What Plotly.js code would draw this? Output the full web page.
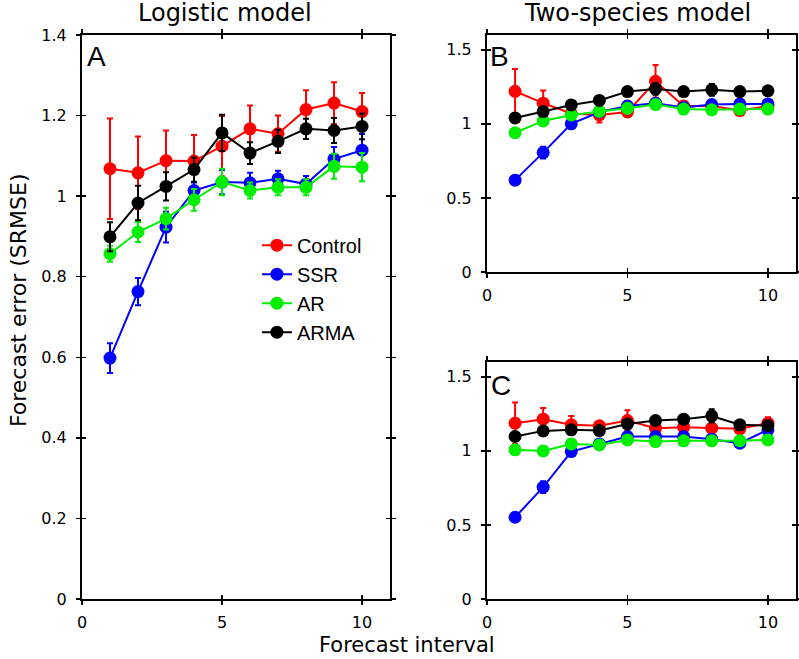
<!DOCTYPE html>
<html>
<head>
<meta charset="utf-8">
<script src="https://cdn.plot.ly/plotly-3.0.1.min.js"></script>
<style>html,body{margin:0;padding:0;background:#fff;}#chart{width:799px;height:659px;}</style>
</head>
<body>
<div id="chart"></div>
<script>
// Forecast intervals
var intervals = [1, 2, 3, 4, 5, 6, 7, 8, 9, 10];
var seriesNames = ["Control", "SSR", "AR", "ARMA"];
var seriesColors = ["#ff0000", "#0000ff", "#00ee00", "#000000"];

// Panel A: Logistic model
var ctrlA    = [1.068, 1.058, 1.088, 1.087, 1.124, 1.167, 1.155, 1.215, 1.231, 1.210];
var ctrlAerr = [0.125, 0.090, 0.075, 0.065, 0.075, 0.058, 0.045, 0.048, 0.052, 0.046];
var ssrA     = [0.598, 0.763, 0.923, 1.014, 1.035, 1.033, 1.043, 1.030, 1.092, 1.114];
var ssrAerr  = [0.037, 0.034, 0.038, 0.020, 0.030, 0.025, 0.020, 0.020, 0.030, 0.040];
var arA      = [0.857, 0.911, 0.944, 0.991, 1.035, 1.014, 1.022, 1.022, 1.074, 1.072];
var arAerr   = [0.020, 0.025, 0.027, 0.027, 0.033, 0.020, 0.020, 0.020, 0.031, 0.035];
var armaA    = [0.899, 0.983, 1.024, 1.066, 1.157, 1.107, 1.136, 1.167, 1.163, 1.173];
var armaAerr = [0.036, 0.043, 0.035, 0.030, 0.045, 0.027, 0.029, 0.025, 0.031, 0.032];

// Panel B: Two-species model (upper)
var ctrlB    = [1.220, 1.140, 1.070, 1.060, 1.080, 1.287, 1.120, 1.120, 1.090, 1.120];
var ctrlBerr = [0.150, 0.085, 0.040, 0.050, 0.030, 0.110, 0.030, 0.030, 0.030, 0.030];
var ssrB     = [0.620, 0.806, 1.000, 1.080, 1.120, 1.140, 1.110, 1.130, 1.135, 1.135];
var ssrBerr  = [0.030, 0.040, 0.030, 0.020, 0.020, 0.020, 0.020, 0.020, 0.020, 0.020];
var arB      = [0.940, 1.020, 1.060, 1.085, 1.105, 1.130, 1.100, 1.095, 1.100, 1.100];
var arBerr   = [0.020, 0.020, 0.020, 0.020, 0.020, 0.020, 0.020, 0.020, 0.020, 0.020];
var armaB    = [1.040, 1.083, 1.128, 1.158, 1.218, 1.236, 1.218, 1.230, 1.218, 1.223];
var armaBerr = [0.020, 0.020, 0.020, 0.020, 0.020, 0.040, 0.030, 0.040, 0.030, 0.020];

// Panel C: Two-species model (lower)
var ctrlC    = [1.187, 1.214, 1.176, 1.169, 1.205, 1.153, 1.160, 1.153, 1.149, 1.187];
var ctrlCerr = [0.140, 0.075, 0.060, 0.030, 0.070, 0.030, 0.030, 0.030, 0.030, 0.040];
var ssrC     = [0.552, 0.755, 0.995, 1.047, 1.097, 1.097, 1.097, 1.079, 1.052, 1.142];
var ssrCerr  = [0.020, 0.040, 0.020, 0.020, 0.020, 0.020, 0.020, 0.020, 0.020, 0.020];
var arC      = [1.007, 1.000, 1.047, 1.040, 1.074, 1.063, 1.068, 1.068, 1.068, 1.074];
var arCerr   = [0.020, 0.020, 0.020, 0.020, 0.020, 0.020, 0.020, 0.020, 0.020, 0.020];
var armaC    = [1.097, 1.135, 1.142, 1.137, 1.182, 1.205, 1.214, 1.236, 1.176, 1.171];
var armaCerr = [0.020, 0.020, 0.020, 0.020, 0.020, 0.020, 0.030, 0.045, 0.020, 0.020];

var panels = [
  {xa: "x",  ya: "y",  vals: [ctrlA, ssrA, arA, armaA], errs: [ctrlAerr, ssrAerr, arAerr, armaAerr], legend: true},
  {xa: "x2", ya: "y2", vals: [ctrlB, ssrB, arB, armaB], errs: [ctrlBerr, ssrBerr, arBerr, armaBerr], legend: false},
  {xa: "x3", ya: "y3", vals: [ctrlC, ssrC, arC, armaC], errs: [ctrlCerr, ssrCerr, arCerr, armaCerr], legend: false}
];

var traces = [];
panels.forEach(function (p) {
  for (var i = 0; i < seriesNames.length; i++) {
    traces.push({
      type: "scatter", mode: "lines+markers",
      x: intervals, y: p.vals[i],
      xaxis: p.xa, yaxis: p.ya,
      name: seriesNames[i], showlegend: p.legend,
      line: {color: seriesColors[i], width: 2},
      marker: {color: seriesColors[i], size: 13, symbol: "circle"},
      error_y: {type: "data", array: p.errs[i], visible: true, color: seriesColors[i], thickness: 2, width: 3}
    });
  }
});
// dummy traces for overlay axes (inside ticks -> crossing ticks)
["4", "5", "6"].forEach(function (k) {
  traces.push({type: "scatter", x: [], y: [], xaxis: "x" + k, yaxis: "y" + k, showlegend: false, hoverinfo: "skip"});
});

var tickFont = {family: "DejaVu Sans", size: 16, color: "#000"};
function mainAxis(domain, anchor, range, dtick, standoff) {
  return {
    domain: domain, anchor: anchor, range: range, dtick: dtick, tick0: 0,
    showgrid: false, zeroline: false, showline: true, linecolor: "#000", linewidth: 2,
    mirror: "ticks", ticks: "outside", ticklen: 4, tickwidth: 1.5, tickcolor: "#000",
    tickfont: tickFont, ticklabelstandoff: standoff, fixedrange: true
  };
}
function overlayAxis(over, anchor, range, dtick) {
  return {
    overlaying: over, anchor: anchor, range: range, dtick: dtick, tick0: 0,
    showgrid: false, zeroline: false, showline: false,
    mirror: "ticks", ticks: "inside", ticklen: 4, tickwidth: 1.5, tickcolor: "#000",
    showticklabels: false, fixedrange: true
  };
}

var xA = [0, 0.4314], xBC = [0.5672, 1];
var yA = [0, 1], yB = [0.5798, 1], yC = [0, 0.4202];

var layout = {
  width: 799, height: 659,
  margin: {l: 82, r: 3, t: 35, b: 60},
  paper_bgcolor: "#fff", plot_bgcolor: "rgba(0,0,0,0)",
  font: {family: "DejaVu Sans", color: "#000"},
  showlegend: true,
  legend: {
    x: 0.245, y: 0.662, xanchor: "left", yanchor: "top",
    bgcolor: "rgba(0,0,0,0)", borderwidth: 0,
    font: {family: "Liberation Sans", size: 20, color: "#000"},
    tracegroupgap: 0
  },
  xaxis:  mainAxis(xA, "y", [0, 11], 5, 4),
  yaxis:  mainAxis(yA, "x", [0, 1.4], 0.2, 6),
  xaxis2: mainAxis(xBC, "y2", [0, 11], 5, 4),
  yaxis2: mainAxis(yB, "x2", [0, 1.6], 0.5, 6),
  xaxis3: mainAxis(xBC, "y3", [0, 11], 5, 4),
  yaxis3: mainAxis(yC, "x3", [0, 1.6], 0.5, 6),
  xaxis4: overlayAxis("x", "y4", [0, 11], 5),
  yaxis4: overlayAxis("y", "x4", [0, 1.4], 0.2),
  xaxis5: overlayAxis("x2", "y5", [0, 11], 5),
  yaxis5: overlayAxis("y2", "x5", [0, 1.6], 0.5),
  xaxis6: overlayAxis("x3", "y6", [0, 11], 5),
  yaxis6: overlayAxis("y3", "x6", [0, 1.6], 0.5),
  annotations: [
    {text: "Logistic model", xref: "paper", yref: "paper", x: 0.2003, y: 1.039, xanchor: "center", yanchor: "middle", showarrow: false, font: {family: "DejaVu Sans", size: 24, color: "#000"}},
    {text: "Two-species model", xref: "paper", yref: "paper", x: 0.7787, y: 1.039, xanchor: "center", yanchor: "middle", showarrow: false, font: {family: "DejaVu Sans", size: 24, color: "#000"}},
    {text: "Forecast interval", xref: "paper", yref: "paper", x: 0.455, y: -0.0824, xanchor: "center", yanchor: "middle", showarrow: false, borderpad: 0, font: {family: "DejaVu Sans", size: 21, color: "#000"}},
    {text: "Forecast error (SRMSE)", xref: "paper", yref: "paper", x: -0.0896, y: 0.53, xanchor: "center", yanchor: "middle", textangle: -90, showarrow: false, font: {family: "DejaVu Sans", size: 22, color: "#000"}},
    {text: "A", xref: "paper", yref: "paper", x: 0.021, y: 0.961, xanchor: "center", yanchor: "middle", showarrow: false, font: {family: "Liberation Sans", size: 28, color: "#000"}},
    {text: "B", xref: "paper", yref: "paper", x: 0.5854, y: 0.961, xanchor: "center", yanchor: "middle", showarrow: false, font: {family: "Liberation Sans", size: 28, color: "#000"}},
    {text: "C", xref: "paper", yref: "paper", x: 0.5868, y: 0.3777, xanchor: "center", yanchor: "middle", showarrow: false, font: {family: "Liberation Sans", size: 28, color: "#000"}}
  ]
};

Plotly.newPlot("chart", traces, layout, {displayModeBar: false, staticPlot: true});
</script>
</body>
</html>
